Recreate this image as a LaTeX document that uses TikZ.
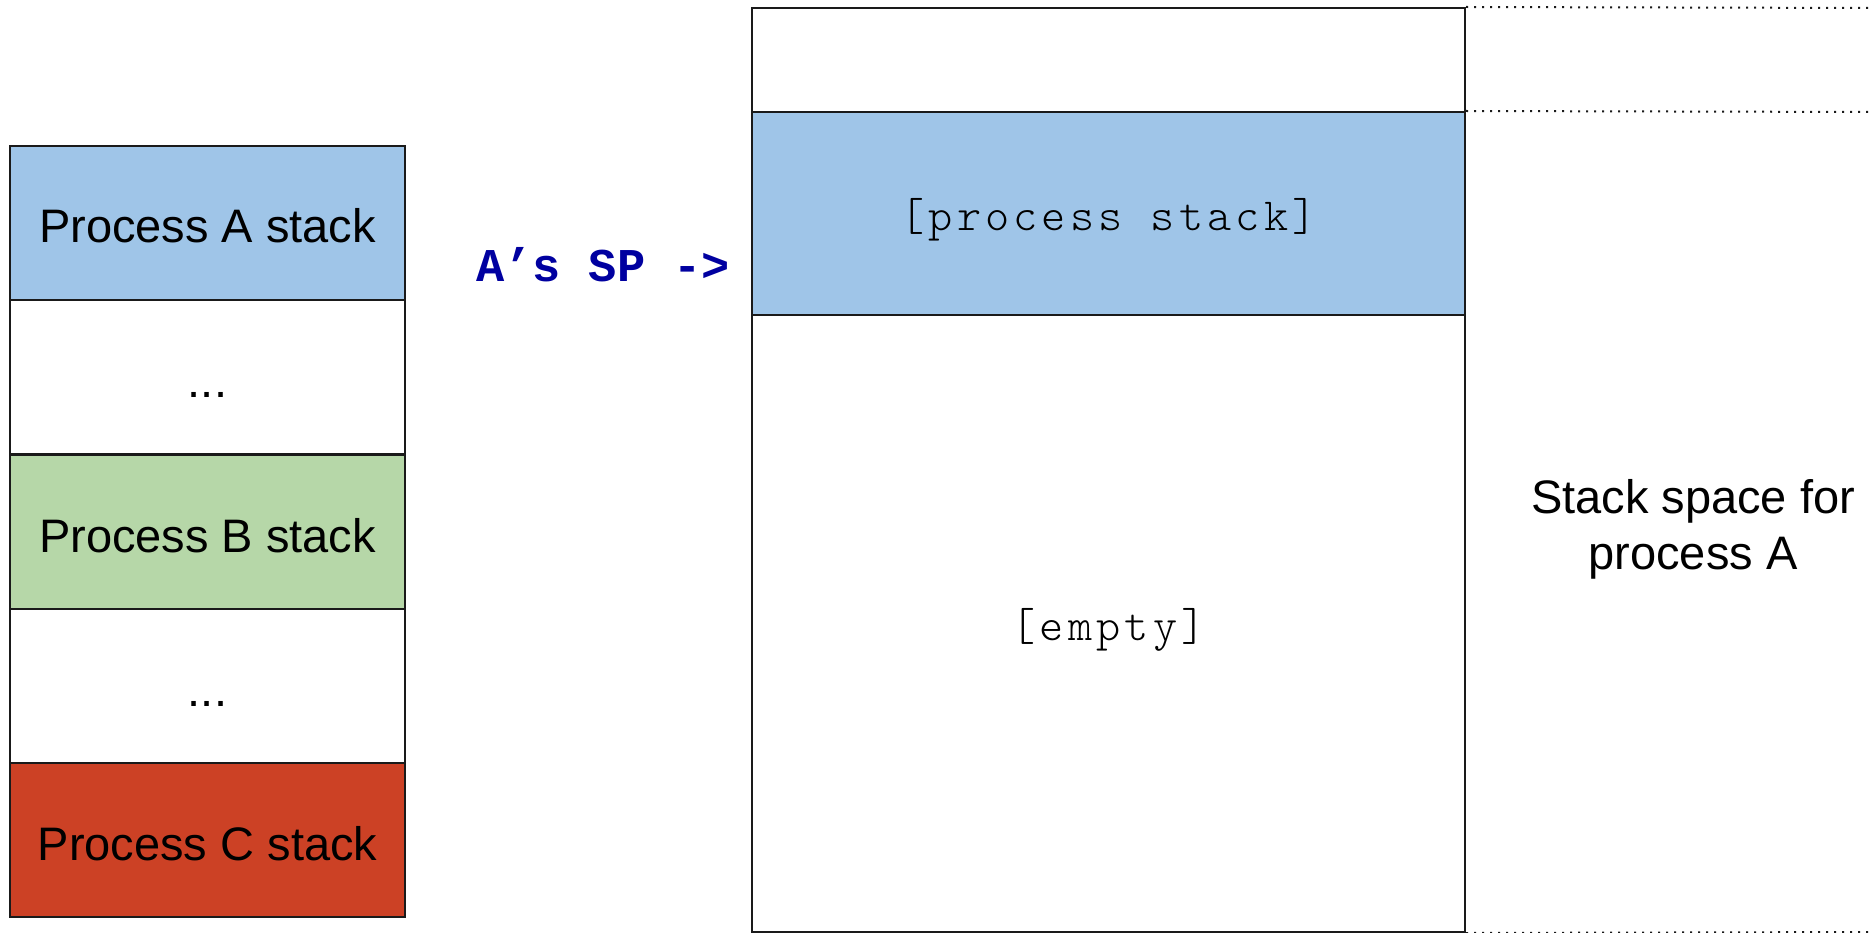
\documentclass[tikz,border=0pt]{standalone}
\usepackage{fontspec}
\setmainfont{Liberation Sans}
\newfontfamily\codefont{Latin Modern Mono Light}[LetterSpace=9]
\newfontfamily\codebold{Liberation Mono}
\definecolor{stackblue}{HTML}{9FC5E8}
\definecolor{stackgreen}{HTML}{B6D7A8}
\definecolor{stackred}{HTML}{CC4125}
\definecolor{spblue}{RGB}{0,0,160}
\definecolor{edge}{HTML}{1A1A1A}
\begin{document}
\begin{tikzpicture}[x=1pt,y=-1pt,
  cell/.style={draw=edge, line width=2pt, rectangle, inner sep=0pt,
    minimum width=395pt, minimum height=154pt,
    font=\fontsize{47}{56}\selectfont, text height=40pt, text depth=0pt},
  region/.style={draw=edge, line width=2pt, rectangle, inner sep=0pt,
    minimum width=713pt,
    font=\codefont\fontsize{46}{54}\selectfont, text height=34pt, text depth=0pt},
  guide/.style={line width=2pt, dash pattern=on 2pt off 6pt, draw=edge}]
\useasboundingbox (0,0) rectangle (1872,933);

% process stacks, top to bottom
\node[cell, fill=stackblue]  (pa) at (207.5,223) {Process A stack};
\node[cell, fill=white]      (d1) at (207.5,377) {...};
\node[cell, fill=stackgreen] (pb) at (207.5,532) {Process B stack};
\node[cell, fill=white]      (d2) at (207.5,686) {...};
\node[cell, fill=stackred]   (pc) at (207.5,840) {Process C stack};

% stack space of process A
\node[region, fill=white, minimum height=104pt] (top) at (1108.5,60) {};
\node[region, fill=stackblue, minimum height=203pt] (used) at (1108.5,213.5) {[process stack]};
\node[region, fill=white, minimum height=617pt] (free) at (1108.5,623.5) {[empty]};

% stack pointer label
\node[anchor=base, inner sep=0pt, text=spblue,
  font=\codebold\bfseries\fontsize{47}{54}\selectfont] (sp) at (603,282) {A’s SP ->};

% extent of the stack space
\coordinate (g1) at (1872,8);
\coordinate (g2) at (1872,112);
\coordinate (g3) at (1872,932);
\draw[guide] (top.north east) -- (g1);
\draw[guide] (used.north east) -- (g2);
\draw[guide] (free.south east) -- (g3);

\node[anchor=base, align=center, inner sep=0pt,
  font=\fontsize{47}{56}\selectfont] (lbl) at (1693,569) {Stack space for\\process A};
\end{tikzpicture}
\end{document}
